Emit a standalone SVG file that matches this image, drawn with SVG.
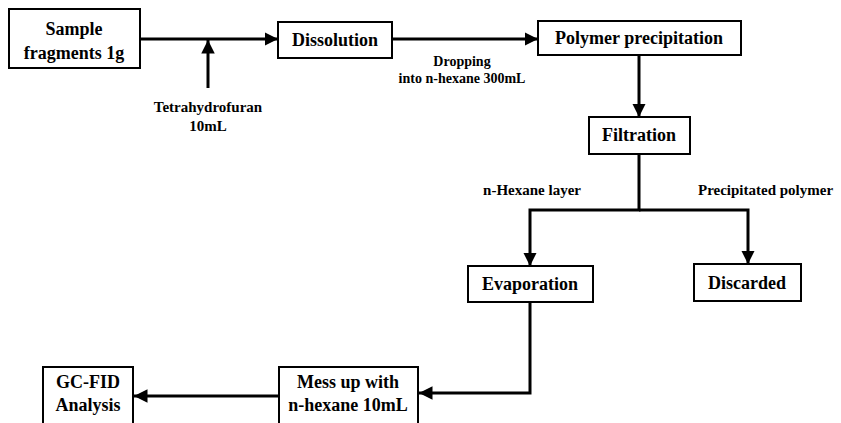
<svg xmlns="http://www.w3.org/2000/svg" width="841" height="423" viewBox="0 0 841 423">
<style>
.box{fill:#fff;stroke:#000;stroke-width:2}
.t{font-family:"Liberation Serif","Times New Roman",serif;font-weight:bold;font-size:18px;text-anchor:middle;fill:#000}
.l{font-family:"Liberation Serif","Times New Roman",serif;font-weight:bold;font-size:15px;text-anchor:middle;fill:#000}
.s{font-size:14px}
.c{fill:none;stroke:#000;stroke-width:3}
</style>
<defs>
<marker id="ah" viewBox="0 0 10 10" refX="10" refY="5" markerWidth="4.5" markerHeight="4.5" markerUnits="strokeWidth" orient="auto">
<path d="M0,0 L10,5 L0,10 Z" fill="#000"/>
</marker>
</defs>
<g id="connectors">
<path class="c" d="M140,39 H278" marker-end="url(#ah)"/>
<path class="c" d="M208,88 V40" marker-end="url(#ah)"/>
<path class="c" d="M392,39 H538" marker-end="url(#ah)"/>
<path class="c" d="M639,55 V117" marker-end="url(#ah)"/>
<path class="c" d="M639,154 V210 H530 V266" marker-end="url(#ah)"/>
<path class="c" d="M639,210 H748 V264" marker-end="url(#ah)"/>
<path class="c" d="M530,302 V393 H419" marker-end="url(#ah)"/>
<path class="c" d="M279,396 H134" marker-end="url(#ah)"/>
</g>
<g id="labels">
<text class="l" x="208" y="112">Tetrahydrofuran</text>
<text class="l" x="208" y="131">10mL</text>
<text class="l s" x="462" y="66">Dropping</text>
<text class="l s" x="462" y="83">into n-hexane 300mL</text>
<text class="l" x="532" y="195">n-Hexane layer</text>
<text class="l" x="698" y="195" style="text-anchor:start">Precipitated polymer</text>
</g>
<g id="sample"><rect class="box" x="9" y="9" width="131" height="59"/><text class="t" x="74" y="35">Sample</text><text class="t" x="74" y="59">fragments 1g</text></g>
<g id="dissolution"><rect class="box" x="278" y="22" width="114" height="36"/><text class="t" x="335" y="46">Dissolution</text></g>
<g id="polymer"><rect class="box" x="538" y="21" width="203" height="34"/><text class="t" x="639" y="44">Polymer precipitation</text></g>
<g id="filtration"><rect class="box" x="589" y="117" width="101" height="37"/><text class="t" x="639" y="141">Filtration</text></g>
<g id="evaporation"><rect class="box" x="468" y="266" width="125" height="36"/><text class="t" x="530" y="290">Evaporation</text></g>
<g id="discarded"><rect class="box" x="694" y="264" width="107" height="37"/><text class="t" x="747" y="289">Discarded</text></g>
<g id="messup"><rect class="box" x="279" y="367" width="139" height="60"/><text class="t" x="348" y="388">Mess up with</text><text class="t" x="348" y="411">n-hexane 10mL</text></g>
<g id="gcfid"><rect class="box" x="43" y="367" width="90" height="60"/><text class="t" x="88" y="388">GC-FID</text><text class="t" x="88" y="411">Analysis</text></g>
</svg>
